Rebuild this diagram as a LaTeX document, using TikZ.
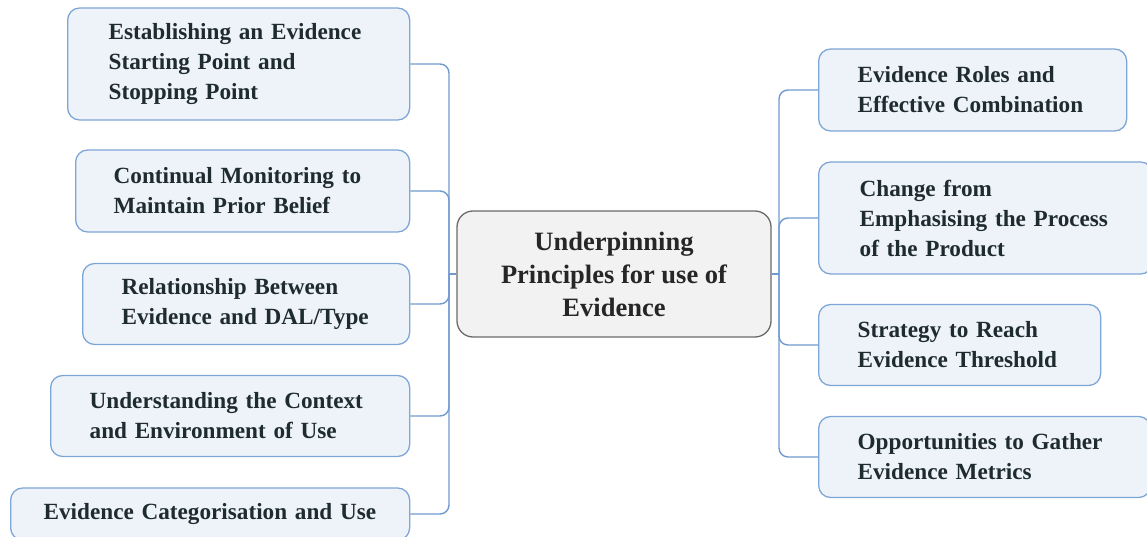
\documentclass[tikz,border=0pt]{standalone}
\usepackage{fontspec}
\setmainfont{Liberation Serif}
\usepackage{tikz}

\definecolor{topicfill}{HTML}{EEF3FA}
\definecolor{topicline}{HTML}{7EA6D6}
\definecolor{linkblue}{HTML}{6F9AD0}
\definecolor{rootfill}{HTML}{F2F2F2}
\definecolor{rootline}{HTML}{6A6A6A}
\definecolor{inktext}{HTML}{1E2B30}

\tikzset{
	topic/.style={draw=topicline, fill=topicfill, line width=1.3pt,
		rounded corners=12pt, align=left, anchor=west, inner xsep=39pt,
		inner ysep=0pt, text=inktext,
		font=\bfseries\fontsize{23.2}{30}\selectfont},
	root/.style={draw=rootline, fill=rootfill, line width=1.3pt,
		rounded corners=16pt, align=center, inner sep=0pt, text=black!85,
		minimum width=314pt, minimum height=126pt,
		font=\bfseries\fontsize{26.5}{33}\selectfont},
	link/.style={draw=linkblue, line width=1.4pt, rounded corners=9pt}
}

\begin{document}
\begin{tikzpicture}[x=1pt, y=-1pt]
		\useasboundingbox (0,0) rectangle (1147,537);
		% centre of the map
		\node[root] (root) at (614,274) {Underpinning\\Principles for use of\\Evidence};
		
		% left branches
		\node[topic, inner xsep=41pt, text width=260pt, minimum height=112pt] (L1) at (67,64)
			{Establishing an Evidence\\Starting Point and\\Stopping Point};
		\node[topic, inner xsep=38pt, text width=258pt, minimum height=82pt] (L2) at (75,191)
			{Continual Monitoring to\\Maintain Prior Belief};
		\node[topic, text width=249pt, minimum height=81pt] (L3) at (82,304)
			{Relationship Between\\Evidence and DAL/Type};
		\node[topic, text width=281pt, minimum height=81pt] (L4) at (50,416)
			{Understanding the Context\\and Environment of Use};
		\node[topic, inner xsep=33pt, text width=333pt, minimum height=52pt] (L5) at (10,514)
			{Evidence Categorisation and Use};
		
		% right branches
		\node[topic, text width=230pt, minimum height=82pt] (R1) at (818,90)
			{Evidence Roles and\\Effective Combination};
		\node[topic, inner xsep=41pt, text width=252pt, minimum height=112pt] (R2) at (818,218)
			{Change from\\Emphasising the Process\\of the Product};
		\node[topic, text width=204pt, minimum height=81pt] (R3) at (818,345)
			{Strategy to Reach\\Evidence Threshold};
		\node[topic, text width=254pt, minimum height=81pt] (R4) at (818,457)
			{Opportunities to Gather\\Evidence Metrics};
		
		% connectors
		\coordinate (lbus) at (449,274);
		\coordinate (rbus) at (779,274);
		\draw[link] (root.west) -- (lbus);
		\draw[link] (root.east) -- (rbus);
		\foreach \n in {L1,L2,L3,L4,L5}
			\draw[link] (lbus) |- (\n.east);
		\foreach \n in {R1,R2,R3,R4}
			\draw[link] (rbus) |- (\n.west);
\end{tikzpicture}
\end{document}
